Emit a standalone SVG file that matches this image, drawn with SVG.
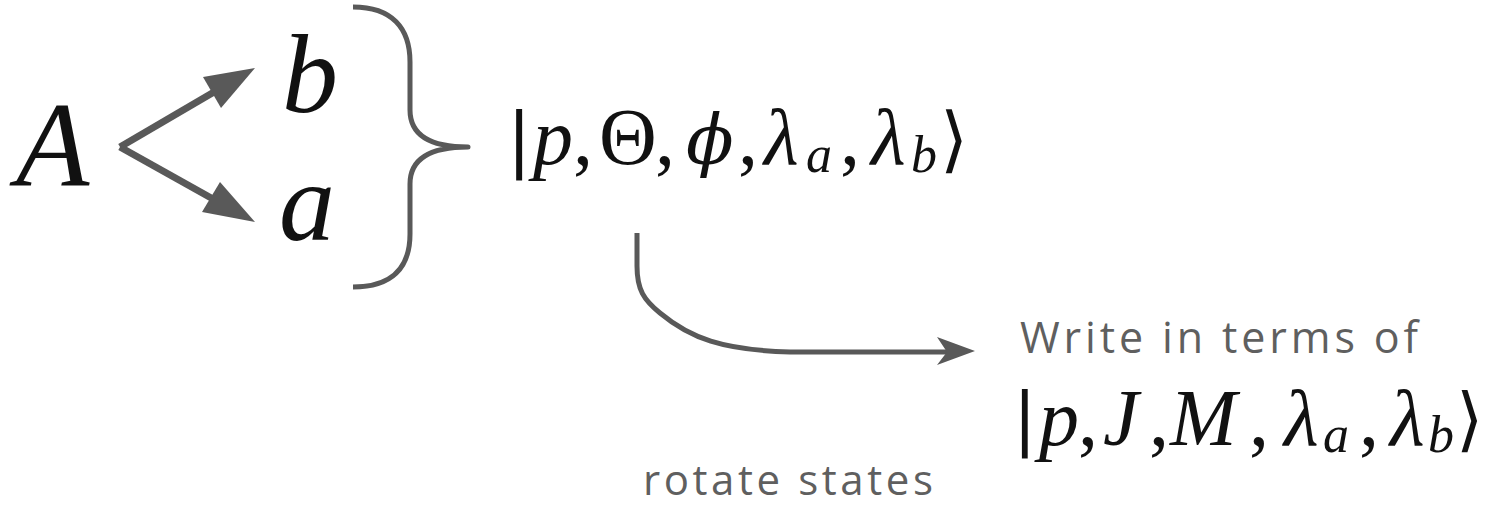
<svg xmlns="http://www.w3.org/2000/svg" width="1485" height="505" viewBox="0 0 1485 505">
<style>
.mi{font-family:"Liberation Serif",serif;font-style:italic;fill:#111}
.mr{font-family:"Liberation Serif",serif;fill:#111}
.br{font-family:"DejaVu Sans",sans-serif;fill:#111}
.ph{font-family:"DejaVu Serif","Liberation Serif",serif;font-style:italic;fill:#111}
.sans{font-family:"Open Sans",Lato,sans-serif;fill:#5f5f5f}
.ln{fill:none;stroke:#595959;stroke-linecap:butt;stroke-linejoin:round}
.hd{fill:#595959}
</style>
<rect width="1485" height="505" fill="#ffffff"/>
<g id="node-A"><text class="mi" x="16" y="186" font-size="120">A</text></g>
<g id="node-b"><text class="mi" x="282" y="112" font-size="112">b</text></g>
<g id="node-a"><text class="mi" x="279" y="240" font-size="112">a</text></g>
<g id="brace"><path class="ln" stroke-width="5" d="M353,7 C392,7 410,28 410,62 L410,110 C410,136 432,147 468,147 C432,147 410,158 410,184 L410,234 C410,268 392,287 353,287"/></g>
<g id="node-ket1">
<text class="br" font-size="72" x="507" y="163">|</text>
<text font-size="80" y="164"><tspan class="mi" x="533">p</tspan><tspan class="mr" x="573">,</tspan><tspan class="mr" x="599">Θ</tspan><tspan class="mr" x="655">,</tspan><tspan class="ph" x="686" font-size="70">ϕ</tspan><tspan class="mr" x="738">,</tspan><tspan class="mi" x="764">λ</tspan><tspan class="mr" x="840">,</tspan><tspan class="mi" x="871">λ</tspan></text>
<text class="mi" font-size="52" y="172"><tspan x="806">a</tspan><tspan x="911">b</tspan></text>
<text class="br" font-size="72" x="940" y="164">⟩</text>
</g>
<g id="node-write"><text class="sans" x="1020" y="353" font-size="43" textLength="398" lengthAdjust="spacing">Write in terms of</text></g>
<g id="node-ket2">
<text class="br" font-size="70" x="1013" y="442">|</text>
<text font-size="80" y="445"><tspan class="mi" x="1039">p</tspan><tspan class="mr" x="1078">,</tspan><tspan class="mi" x="1103">J</tspan><tspan class="mr" x="1149">,</tspan><tspan class="mi" x="1170">M</tspan><tspan class="mr" x="1249">,</tspan><tspan class="mi" x="1284">λ</tspan><tspan class="mr" x="1359">,</tspan><tspan class="mi" x="1390">λ</tspan></text>
<text class="mi" font-size="52" y="452"><tspan x="1323">a</tspan><tspan x="1428">b</tspan></text>
<text class="br" font-size="70" x="1456" y="443">⟩</text>
</g>
<g id="label-rotate"><text class="sans" x="643" y="495" font-size="42" textLength="290" lengthAdjust="spacing">rotate states</text></g>
<g id="connectors">
<path class="ln" stroke-width="7" d="M120,147 L214,92"/>
<polygon class="hd" points="255,68 203,77 221,108"/>
<path class="ln" stroke-width="7" d="M120,147 L213,199"/>
<polygon class="hd" points="255,222 220,182 202,212"/>
<path class="ln" stroke-width="5" d="M637,233 L637,266 C637,290 644,300 660,313 C690,338 722,350 790,352 L948,352"/>
<polygon class="hd" points="975,351 937,337 947,352 937,365"/>
</g>
</svg>
